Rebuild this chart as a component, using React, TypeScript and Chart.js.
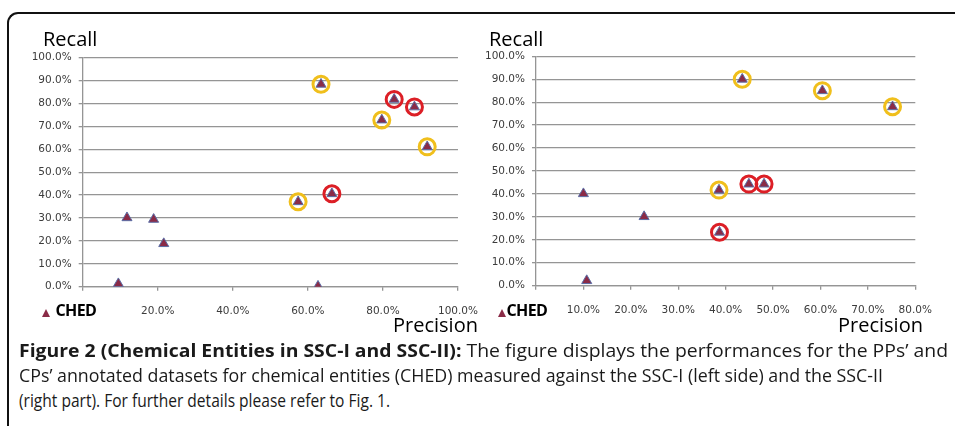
import React, { useEffect, useLayoutEffect, useRef } from 'react';
import { Chart, registerables } from 'chart.js';

Chart.register(...registerables);

// ---------- Data ----------
// Left panel: SSC-I
const leftPrecision = [63.5, 83.0, 88.4, 79.7, 91.8, 66.4, 57.4, 11.8, 18.9, 21.6, 9.5, 62.7];
const leftRecall = [88.4, 81.8, 78.5, 72.8, 61.1, 40.6, 37.1, 30.1, 29.4, 18.8, 1.3, 0.2];
const leftHighlight = ['yellow', 'red', 'red', 'yellow', 'yellow', 'red', 'yellow', '', '', '', '', ''];

// Right panel: SSC-II
const rightPrecision = [43.5, 60.4, 75.2, 10.0, 22.8, 38.6, 44.9, 48.1, 38.7, 10.7];
const rightRecall = [90.0, 85.0, 78.0, 40.1, 30.1, 41.7, 44.3, 44.3, 23.3, 2.2];
const rightHighlight = ['yellow', 'yellow', 'yellow', '', '', 'yellow', 'red', 'red', 'red', ''];

const yTickValues = [0, 10, 20, 30, 40, 50, 60, 70, 80, 90, 100];
const yTickLabels = ['0.0%', '10.0%', '20.0%', '30.0%', '40.0%', '50.0%', '60.0%', '70.0%', '80.0%', '90.0%', '100.0%'];
const leftXTickValues = [0, 20, 40, 60, 80, 100];
const leftXTickLabels = ['', '20.0%', '40.0%', '60.0%', '80.0%', '100.0%'];
const rightXTickValues = [0, 10, 20, 30, 40, 50, 60, 70, 80];
const rightXTickLabels = ['', '10.0%', '20.0%', '30.0%', '40.0%', '50.0%', '60.0%', '70.0%', '80.0%'];

const seriesName = 'CHED';
const yTitle = 'Recall';
const xTitle = 'Precision';

const captionBold = 'Figure 2 (Chemical Entities in SSC-I and SSC-II):';
const captionLine1 = ' The figure displays the performances for the PPs\u2019 and';
const captionLine2 = 'CPs\u2019 annotated datasets for chemical entities (CHED) measured against the SSC-I (left side) and the SSC-II';
const captionLine3 = '(right part). For further details please refer to Fig. 1.';

// ---------- Styles ----------
const TRI_FILL = '#8a2b47';
const TRI_BORDER = '#5b6ea6';
const YELLOW = '#f0bf1c';
const RED = '#dc1f26';
const GRID = '#959595';
const TICK_COLOR = '#3c3c3c';
const TICK_FONT = { family: '"DejaVu Sans", sans-serif', size: 10.5 };

type PanelSpec = {
  precision: number[];
  recall: number[];
  highlight: string[];
  xMax: number;
  xTicks: number[];
  xLabels: string[];
  width: number;
  height: number;
  yAxisWidth: number;
  topPad: number;
  rightPad: number;
  xAxisHeight: number;
};

function buildConfig(spec: PanelSpec): any {
  const pts = spec.precision.map((p, i) => ({ x: p, y: spec.recall[i] }));
  const yellowPts = pts.filter((_, i) => spec.highlight[i] === 'yellow');
  const redPts = pts.filter((_, i) => spec.highlight[i] === 'red');
  return {
    type: 'scatter',
    data: {
      datasets: [
        {
          label: seriesName,
          data: pts,
          pointStyle: 'triangle',
          radius: 5.8,
          backgroundColor: TRI_FILL,
          borderColor: TRI_BORDER,
          borderWidth: 1,
          order: 0,
        },
        {
          label: 'yellow',
          data: yellowPts,
          pointStyle: 'circle',
          radius: 8,
          backgroundColor: 'rgba(0,0,0,0)',
          borderColor: YELLOW,
          borderWidth: 3,
          order: 1,
        },
        {
          label: 'red',
          data: redPts,
          pointStyle: 'circle',
          radius: 8,
          backgroundColor: 'rgba(0,0,0,0)',
          borderColor: RED,
          borderWidth: 3,
          order: 1,
        },
      ],
    },
    options: {
      responsive: false,
      animation: false,
      events: [],
      layout: { padding: { left: 0, top: spec.topPad, right: spec.rightPad, bottom: 0 } },
      plugins: { legend: { display: false }, tooltip: { enabled: false }, title: { display: false } },
      scales: {
        x: {
          type: 'linear',
          min: 0,
          max: spec.xMax,
          afterBuildTicks: (s: any) => {
            s.ticks = spec.xTicks.map((v) => ({ value: v }));
          },
          afterFit: (s: any) => {
            s.height = spec.xAxisHeight;
          },
          grid: { drawOnChartArea: false, drawTicks: true, tickLength: 4, color: GRID, lineWidth: 1.3 },
          border: { display: true, color: GRID, width: 1.3 },
          ticks: {
            padding: 14,
            color: TICK_COLOR,
            font: TICK_FONT,
            maxRotation: 0,
            autoSkip: false,
            callback: (_v: any, i: number) => spec.xLabels[i],
          },
        },
        y: {
          type: 'linear',
          min: 0,
          max: 100,
          afterBuildTicks: (s: any) => {
            s.ticks = yTickValues.map((v) => ({ value: v }));
          },
          afterFit: (s: any) => {
            s.width = spec.yAxisWidth;
          },
          grid: { drawOnChartArea: true, drawTicks: true, tickLength: 4, color: GRID, lineWidth: 1.3 },
          border: { display: true, color: GRID, width: 1.3 },
          ticks: {
            padding: 7,
            color: TICK_COLOR,
            font: TICK_FONT,
            autoSkip: false,
            callback: (_v: any, i: number) => yTickLabels[i],
          },
        },
      },
    },
  };
}

function Panel({ spec, left }: { spec: PanelSpec; left: number }) {
  const ref = useRef<HTMLCanvasElement | null>(null);
  useEffect(() => {
    if (!ref.current) return;
    const chart = new Chart(ref.current, buildConfig(spec));
    return () => chart.destroy();
  }, []);
  return (
    <canvas
      ref={ref}
      width={spec.width}
      height={spec.height}
      style={{ position: 'absolute', left, top: 0, width: spec.width, height: spec.height }}
    />
  );
}

const titleStyle: React.CSSProperties = {
  position: 'absolute',
  fontFamily: '"Open Sans", sans-serif',
  fontSize: 20,
  lineHeight: '20px',
  color: '#000',
  whiteSpace: 'nowrap',
};

function Legend({ left, gap }: { left: number; gap: number }) {
  return (
    <div style={{ position: 'absolute', left, top: 301.5, height: 16, display: 'flex', alignItems: 'flex-end', whiteSpace: 'nowrap' }}>
      <div
        style={{
          width: 0,
          height: 0,
          borderLeft: '4px solid transparent',
          borderRight: '4px solid transparent',
          borderBottom: `8px solid ${TRI_FILL}`,
          marginBottom: 1,
          marginRight: gap,
        }}
      />
      <span style={{ fontFamily: '"Open Sans", sans-serif', fontWeight: 700, fontSize: 16, lineHeight: '16px', letterSpacing: -0.6, color: '#000' }}>
        {seriesName}
      </span>
    </div>
  );
}

function FitLine({ top, target, children }: { top: number; target: number; children: React.ReactNode }) {
  const ref = useRef<HTMLSpanElement | null>(null);
  useLayoutEffect(() => {
    const el = ref.current;
    if (!el) return;
    el.style.transform = 'none';
    const w = el.getBoundingClientRect().width;
    if (w > 0) el.style.transform = `scaleX(${target / w})`;
  }, []);
  return (
    <span
      ref={ref}
      style={{
        position: 'absolute',
        left: 19,
        top,
        display: 'inline-block',
        whiteSpace: 'nowrap',
        transformOrigin: 'left top',
        fontFamily: '"Open Sans", sans-serif',
        fontSize: 18.5,
        lineHeight: '18.5px',
        color: '#1a1a1a',
      }}
    >
      {children}
    </span>
  );
}

export default function App() {
  const leftSpec: PanelSpec = {
    precision: leftPrecision,
    recall: leftRecall,
    highlight: leftHighlight,
    xMax: 100,
    xTicks: leftXTickValues,
    xLabels: leftXTickLabels,
    width: 492,
    height: 330,
    yAxisWidth: 82.7,
    topPad: 57.7,
    rightPad: 492 - 459.3,
    xAxisHeight: 330 - 286.7,
  };
  const rightSpec: PanelSpec = {
    precision: rightPrecision,
    recall: rightRecall,
    highlight: rightHighlight,
    xMax: 80,
    xTicks: rightXTickValues,
    xLabels: rightXTickLabels,
    width: 475,
    height: 330,
    yAxisWidth: 56,
    topPad: 56.3,
    rightPad: 475 - 435.3,
    xAxisHeight: 330 - 285.7,
  };
  return (
    <div style={{ position: 'fixed', left: 0, top: 0, width: 955, height: 429, overflow: 'hidden', background: '#fff' }}>
      <div
        style={{
          position: 'absolute',
          left: 7,
          top: 11.5,
          width: 1000,
          height: 414,
          borderTop: '2px solid #111',
          borderLeft: '2px solid #111',
          borderTopLeftRadius: 11,
          boxSizing: 'border-box',
        }}
      />
      <Panel spec={leftSpec} left={0} />
      <Panel spec={rightSpec} left={480} />
      <div style={{ ...titleStyle, left: 43, top: 28.7 }}>{yTitle}</div>
      <div style={{ ...titleStyle, left: 393, top: 315 }}>{xTitle}</div>
      <div style={{ ...titleStyle, left: 489, top: 28.7 }}>{yTitle}</div>
      <div style={{ ...titleStyle, left: 838, top: 315 }}>{xTitle}</div>
      <Legend left={41.5} gap={6} />
      <Legend left={497.5} gap={1} />
      <FitLine top={341.3} target={929}>
        <b>{captionBold}</b>
        {captionLine1}
      </FitLine>
      <FitLine top={365.7} target={864}>{captionLine2}</FitLine>
      <FitLine top={390.5} target={371}>{captionLine3}</FitLine>
    </div>
  );
}
